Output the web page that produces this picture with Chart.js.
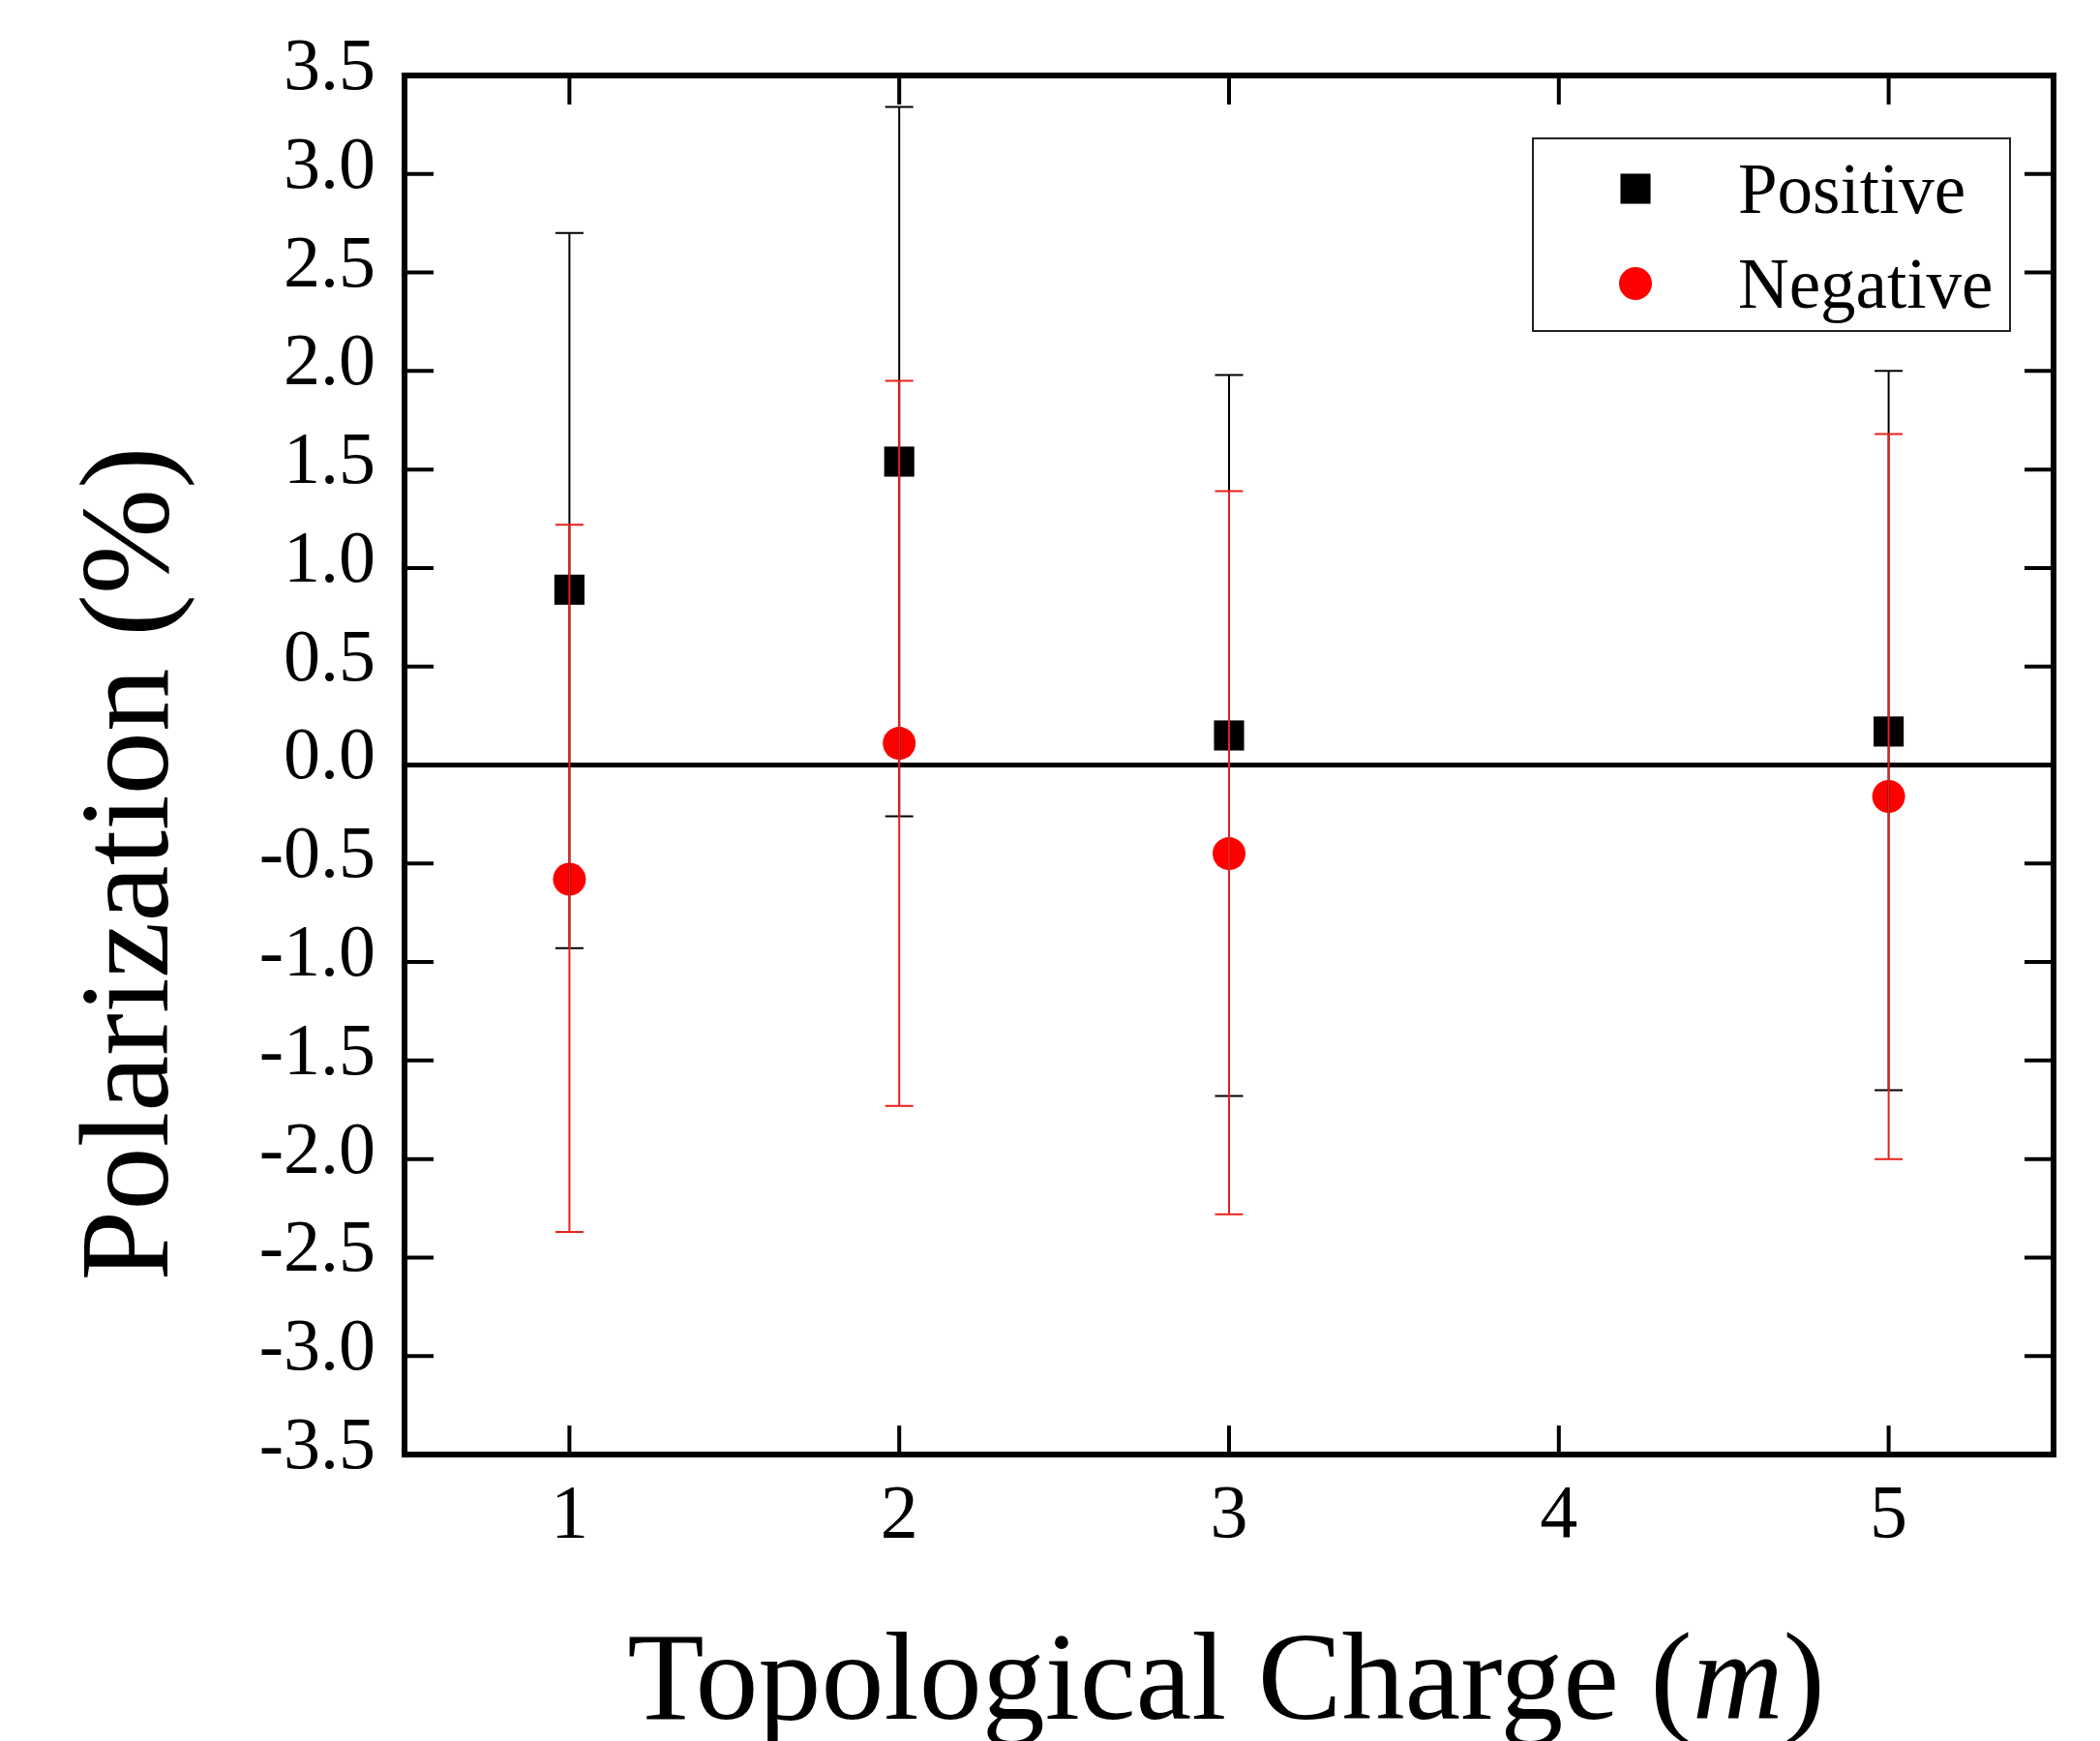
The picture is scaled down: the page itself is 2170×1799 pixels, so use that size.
<!DOCTYPE html>
<html>
<head>
<meta charset="utf-8">
<title>Polarization vs Topological Charge</title>
<script src="https://cdn.jsdelivr.net/npm/chart.js@4.4.1/dist/chart.umd.min.js"></script>
<style>
  html, body { margin: 0; padding: 0; background: #fff; }
  canvas { display: block; }
</style>
</head>
<body>
<canvas id="polChart" width="2170" height="1799"></canvas>
<script>
//
// Values
//
const charges = [1, 2, 3, 5];

const positiveMean = [0.89, 1.54, 0.15, 0.17];
const positiveHigh = [2.70, 3.34, 1.98, 2.00];
const positiveLow  = [-0.93, -0.26, -1.68, -1.65];

const negativeMean = [-0.58, 0.11, -0.45, -0.16];
const negativeHigh = [1.22, 1.95, 1.39, 1.68];
const negativeLow  = [-2.37, -1.73, -2.28, -2.00];

const xTickValues = [1, 2, 3, 4, 5];
const yRange = { min: -3.5, max: 3.5, step: 0.5 };

const xTitle = ['Topological Charge (', 'm', ')'];
const yTitle = 'Polarization (%)';

const SERIF = '"Liberation Serif", "Times New Roman", serif';

function toPoints(xs, ys) {
  return xs.map((x, i) => ({ x: x, y: ys[i] }));
}

// Small helper, same look as chart.js point styles
function drawMarker(ctx, style, radius, color, x, y) {
  ctx.save();
  ctx.fillStyle = color;
  ctx.beginPath();
  if (style === 'rect') {
    const s = Math.SQRT1_2 * radius;
    ctx.rect(x - s, y - s, 2 * s, 2 * s);
  } else {
    ctx.arc(x, y, radius, 0, Math.PI * 2);
  }
  ctx.fill();
  ctx.restore();
}

//
// Horizontal line at y = 0
//
const zeroLine = {
  id: 'zeroLine',
  beforeDatasetsDraw(chart) {
    const { ctx, chartArea, scales } = chart;
    const y = scales.y.getPixelForValue(0);
    ctx.save();
    ctx.strokeStyle = '#000';
    ctx.lineWidth = 5;
    ctx.beginPath();
    ctx.moveTo(chartArea.left, y);
    ctx.lineTo(chartArea.right, y);
    ctx.stroke();
    ctx.restore();
  }
};

//
// Error bars, drawn on top of the markers
//
const errorBars = {
  id: 'errorBars',
  afterDatasetsDraw(chart) {
    const { ctx, scales } = chart;
    const cap = 14.5;
    chart.data.datasets.forEach((ds) => {
      ctx.save();
      ctx.strokeStyle = ds.errorColor;
      ctx.lineWidth = 2;
      ds.data.forEach((pt, i) => {
        const x = scales.x.getPixelForValue(pt.x);
        const yHi = scales.y.getPixelForValue(ds.errorHigh[i]);
        const yLo = scales.y.getPixelForValue(ds.errorLow[i]);
        ctx.beginPath();
        ctx.moveTo(x, yHi);
        ctx.lineTo(x, yLo);
        ctx.moveTo(x - cap, yHi);
        ctx.lineTo(x + cap, yHi);
        ctx.moveTo(x - cap, yLo);
        ctx.lineTo(x + cap, yLo);
        ctx.stroke();
      });
      ctx.restore();
    });
  }
};

//
// Box frame with inward ticks, axis titles and the legend
//
const decorations = {
  id: 'decorations',
  afterDraw(chart) {
    const { ctx, chartArea: a, scales } = chart;
    const tickLen = 30;

    ctx.save();
    ctx.strokeStyle = '#000';
    ctx.lineCap = 'butt';

    // ticks on all four sides
    ctx.lineWidth = 4;
    ctx.beginPath();
    scales.x.ticks.forEach((t) => {
      const x = scales.x.getPixelForValue(t.value);
      ctx.moveTo(x, a.bottom); ctx.lineTo(x, a.bottom - tickLen);
      ctx.moveTo(x, a.top); ctx.lineTo(x, a.top + tickLen);
    });
    scales.y.ticks.forEach((t) => {
      if (t.value <= yRange.min || t.value >= yRange.max) return;
      const y = scales.y.getPixelForValue(t.value);
      ctx.moveTo(a.left, y); ctx.lineTo(a.left + tickLen, y);
      ctx.moveTo(a.right, y); ctx.lineTo(a.right - tickLen, y);
    });
    ctx.stroke();

    // frame
    ctx.lineWidth = 6;
    ctx.strokeRect(a.left, a.top, a.right - a.left, a.bottom - a.top);

    // x title with italic m
    ctx.fillStyle = '#000';
    ctx.textBaseline = 'alphabetic';
    ctx.textAlign = 'left';
    const fUp = '130px ' + SERIF;
    const fIt = 'italic 130px ' + SERIF;
    ctx.font = fUp;
    const w0 = ctx.measureText(xTitle[0]).width;
    const w2 = ctx.measureText(xTitle[2]).width;
    ctx.font = fIt;
    const w1 = ctx.measureText(xTitle[1]).width;
    let tx = (a.left + a.right) / 2 - (w0 + w1 + w2) / 2 - 3;
    const ty = a.bottom + 273;
    ctx.font = fUp; ctx.fillText(xTitle[0], tx, ty); tx += w0;
    ctx.font = fIt; ctx.fillText(xTitle[1], tx, ty); tx += w1;
    ctx.font = fUp; ctx.fillText(xTitle[2], tx, ty);

    // y title
    ctx.save();
    ctx.translate(a.left - 245, (a.top + a.bottom) / 2 + 102);
    ctx.rotate(-Math.PI / 2);
    ctx.textAlign = 'center';
    ctx.font = '131px ' + SERIF;
    ctx.fillText(yTitle, 0, 0);
    ctx.restore();

    // legend
    const box = { left: a.right - 538, top: a.top + 65, right: a.right - 45, bottom: a.top + 264 };
    ctx.lineWidth = 2;
    ctx.strokeStyle = '#222';
    ctx.strokeRect(box.left, box.top, box.right - box.left, box.bottom - box.top);
    ctx.font = '73px ' + SERIF;
    ctx.textAlign = 'left';
    chart.data.datasets.forEach((ds, i) => {
      const rowY = box.top + 52 + i * 98;
      drawMarker(ctx, ds.pointStyle, ds.pointRadius, ds.backgroundColor, box.left + 106, rowY);
      ctx.fillStyle = '#000';
      ctx.fillText(ds.label, box.left + 212, rowY + 25);
    });

    ctx.restore();
  }
};

const chart = new Chart(document.getElementById('polChart'), {
  type: 'scatter',
  data: {
    datasets: [{
      label: 'Positive',
      data: toPoints(charges, positiveMean),
      errorHigh: positiveHigh,
      errorLow: positiveLow,
      errorColor: '#000000',
      pointStyle: 'rect',
      pointRadius: 22,
      pointHoverRadius: 22,
      backgroundColor: '#000000',
      borderWidth: 0
    }, {
      label: 'Negative',
      data: toPoints(charges, negativeMean),
      errorHigh: negativeHigh,
      errorLow: negativeLow,
      errorColor: '#e8201c',
      pointStyle: 'circle',
      pointRadius: 17,
      pointHoverRadius: 17,
      backgroundColor: '#ff0000',
      borderWidth: 0
    }]
  },
  options: {
    responsive: false,
    animation: false,
    devicePixelRatio: 1,
    layout: { padding: { left: 0, top: 78, right: 48, bottom: 0 } },
    plugins: {
      legend: { display: false },
      tooltip: { enabled: false }
    },
    scales: {
      x: {
        type: 'linear',
        min: 0.5,
        max: 5.5,
        afterBuildTicks: (scale) => {
          scale.ticks = xTickValues.map((v) => ({ value: v }));
        },
        afterFit: (scale) => { scale.height = 296; },
        grid: { display: false, drawTicks: false },
        border: { display: false },
        ticks: {
          color: '#000',
          font: { family: SERIF, size: 78 },
          padding: 18,
          maxRotation: 0,
          callback: (v) => String(v)
        }
      },
      y: {
        type: 'linear',
        min: yRange.min,
        max: yRange.max,
        afterFit: (scale) => { scale.width = 418; },
        grid: { display: false, drawTicks: false },
        border: { display: false },
        ticks: {
          stepSize: yRange.step,
          color: '#000',
          font: { family: SERIF, size: 76 },
          padding: 30,
          labelOffset: -6,
          callback: (v) => Number(v).toFixed(1)
        }
      }
    }
  },
  plugins: [zeroLine, errorBars, decorations]
});
</script>
</body>
</html>
